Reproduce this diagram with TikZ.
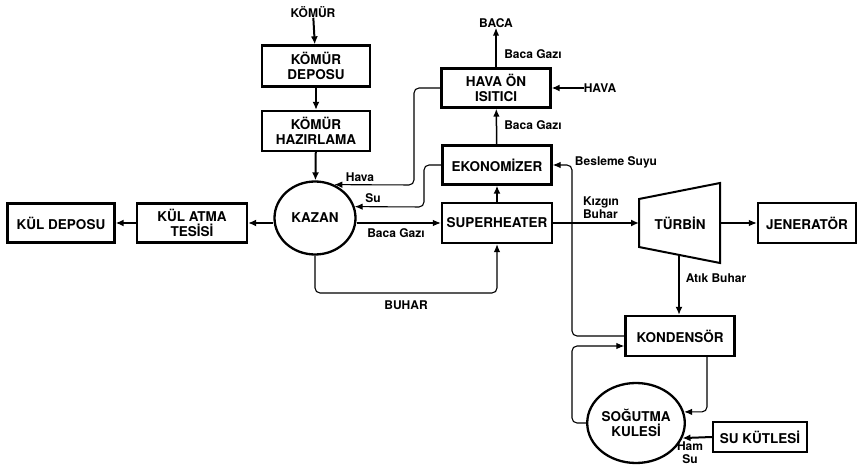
\documentclass[tikz,border=0pt]{standalone}
\usepackage{fontspec}
\setmainfont{TeX Gyre Heros}
\usetikzlibrary{arrows.meta,shapes.geometric}
\begin{document}
\begin{tikzpicture}[x=1pt,y=-1pt,
  box/.style={draw,line width=2.3pt,align=center,inner sep=0pt,font=\bfseries\fontsize{13.5}{15}\selectfont},
  oval/.style={draw,ellipse,line width=2.3pt,align=center,inner sep=0pt,font=\bfseries\fontsize{13.5}{15}\selectfont},
  lbl/.style={align=left,inner sep=0pt,font=\bfseries\fontsize{12}{13}\selectfont},
  thn/.style={line width=1.1pt,rounded corners=5pt,-{Latex[length=8pt,width=6.5pt]}},
  thk/.style={line width=2pt,-{Latex[length=8pt,width=7pt]}},
  med/.style={line width=1.5pt,-{Latex[length=8pt,width=6.5pt]}}]
\useasboundingbox (0,0) rectangle (864,465);

% boxes
\node[box,minimum width=108pt,minimum height=41pt] (kdep) at (316,66) {KÖMÜR\\DEPOSU};
\node[box,minimum width=108pt,minimum height=40pt] (khaz) at (316,131) {KÖMÜR\\HAZIRLAMA};
\node[oval,minimum width=81pt,minimum height=73pt] (kazan) at (315,218) {KAZAN};
\node[box,minimum width=110pt,minimum height=39pt] (kulat) at (192,223) {KÜL ATMA\\TESİSİ};
\node[box,minimum width=107pt,minimum height=39pt] (kuldep) at (61,223) {KÜL DEPOSU};
\node[box,minimum width=110pt,minimum height=40pt] (super) at (497,223) {SUPERHEATER};
\node[box,minimum width=109pt,minimum height=39pt] (ekon) at (497,165) {EKONOMİZER};
\node[box,minimum width=109pt,minimum height=39pt] (hava) at (496,88) {HAVA ÖN\\ISITICI};
\draw[line width=2pt,line join=miter] (639,199) -- (720,183) -- (720,263) -- (639,247) -- cycle;
\node[inner sep=0pt,font=\bfseries\fontsize{13.5}{15}\selectfont] (turb) at (680,223) {TÜRBİN};
\coordinate (tl) at (639,223);
\coordinate (tr) at (720,223);
\coordinate (tb) at (679,255);
\node[box,minimum width=98pt,minimum height=40pt] (jen) at (807,223) {JENERATÖR};
\node[box,minimum width=109pt,minimum height=40pt] (kond) at (680,336) {KONDENSÖR};
\node[oval,minimum width=92pt,minimum height=80pt] (sog) at (636,423) {SOĞUTMA\\KULESİ};
\node[box,minimum width=94pt,minimum height=30pt] (suk) at (760,437) {SU KÜTLESİ};

% labels
\node[lbl] (komur) at (313,12) {KÖMÜR};
\node[lbl] (baca) at (496,23) {BACA};
\node[lbl] (havain) at (600,88) {HAVA};
\node[lbl] (bg1) at (533,54) {Baca Gazı};
\node[lbl] (bg2) at (533,125) {Baca Gazı};
\node[lbl] (besl) at (616,162) {Besleme Suyu};
\node[lbl] (lhava) at (360,177) {Hava};
\node[lbl] (lsu) at (373,198) {Su};
\node[lbl] (bgk) at (396,233) {Baca Gazı};
\node[lbl] (buhar) at (406,305) {BUHAR};
\node[lbl] (kizgin) at (601,208) {Kızgın\\Buhar};
\node[lbl] (atik) at (716,278) {Atık Buhar};
\node[lbl,align=center] (ham) at (690,453) {Ham\\Su};

% connectors
\draw[thk] (komur) -- (kdep);
\draw[thk] (kdep) -- (khaz);
\draw[thk] (khaz) -- (kazan);
\draw[thk] ([yshift=-5pt]kazan.west) -- (kulat.east);
\draw[thk] (kulat) -- (kuldep);
\draw[thn] (kazan.east |- super.west) -- (super.west);
\draw[thk] (super) -- (ekon);
\draw[med] (ekon) -- (hava);
\draw[med] (hava) -- (baca);
\draw[thk] (havain) -- (hava.east);
\draw[thn] (hava.west) -| (414,185) -- (kazan.60);
\draw[thn] (ekon.west) -| (424,207) -- (kazan.16);
\draw[thn] (kazan.south) |- (497,293) -- (super.south);
\draw[thn] (kond.west) -| (572,165) -- (ekon.east);
\draw[thk] (super.east) -- (tl);
\draw[thn] (tr) -- (jen.west);
\draw[thk] (tb) -- (tb |- kond.north);
\draw[thn] ([xshift=27pt]kond.south) |- (sog.13);
\draw[thn] (sog.west) -| (572,346) -- ([yshift=-10pt]kond.west);
\draw[thk] (suk.west) -- (sog.-18);
\end{tikzpicture}
\end{document}
